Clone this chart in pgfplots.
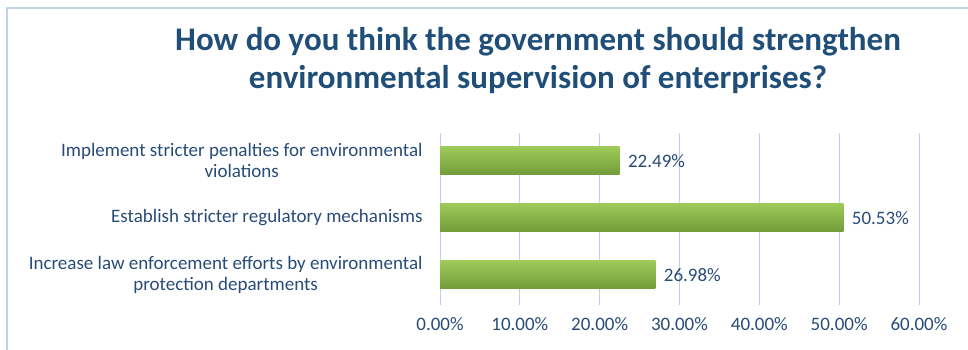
\documentclass[border=0pt]{standalone}
\usepackage{pgfplots}
\pgfplotsset{compat=1.18}
\usepackage{fontspec}
\setmainfont{Carlito}
\definecolor{titleblue}{RGB}{31,78,121}
\definecolor{txtblue}{RGB}{40,75,120}
\definecolor{gridblue}{RGB}{190,208,230}
\definecolor{framebl}{RGB}{190,210,232}
\definecolor{gtop}{RGB}{158,202,90}
\definecolor{gbot}{RGB}{114,156,56}
\begin{document}
\begin{tikzpicture}[x=1pt,y=1pt]
\path[use as bounding box] (0,0) rectangle (968,349);
\begin{scope}
\clip (0,0) rectangle (968,349);
\draw[framebl,line width=1.5pt] (7,341) rectangle (990,-20);
\end{scope}
\node[font=\fontsize{33}{38}\selectfont\bfseries,text=titleblue,align=center] at (538,288) {How do you think the government should strengthen\\environmental supervision of enterprises?};
\begin{axis}[
  at={(440pt,44pt)}, anchor=south west,
  scale only axis, width=479pt, height=172pt,
  xmin=0, xmax=60, ymin=-0.53, ymax=2.49,
  xbar, bar width=28pt, bar shift=0pt,
  axis line style={draw=none},
  major tick length=0pt,
  xtick={0,10,...,60},
  xmajorgrids, grid style={gridblue,line width=0.8pt},
  ytick={0,1,2},
  yticklabels={{Increase law enforcement efforts by environmental\\protection departments},{Establish stricter regulatory mechanisms},{Implement stricter penalties for environmental\\violations}},
  yticklabel style={align=center,font=\fontsize{19}{21}\selectfont,text=txtblue,xshift=-14pt},
  xticklabel={\pgfmathprintnumber[fixed,fixed zerofill,precision=2]{\tick}\%},
  xticklabel style={font=\fontsize{19}{21}\selectfont,text=txtblue,yshift=-9pt},
  /pgf/number format/assume math mode=true,
  nodes near coords={\pgfmathprintnumber[fixed,fixed zerofill,precision=2]{\pgfplotspointmeta}\%},
  nodes near coords style={font=\fontsize{19}{21}\selectfont,text=txtblue,anchor=west,xshift=5pt},
  point meta=explicit,
  clip=false,
]
\addplot[draw=none,top color=gtop,bottom color=gbot] coordinates {(26.98,0) [26.98]};
\addplot[draw=none,top color=gtop,bottom color=gbot] coordinates {(50.53,1) [50.53]};
\addplot[draw=none,top color=gtop,bottom color=gbot] coordinates {(22.49,2) [22.49]};
\end{axis}
\end{tikzpicture}
\end{document}
